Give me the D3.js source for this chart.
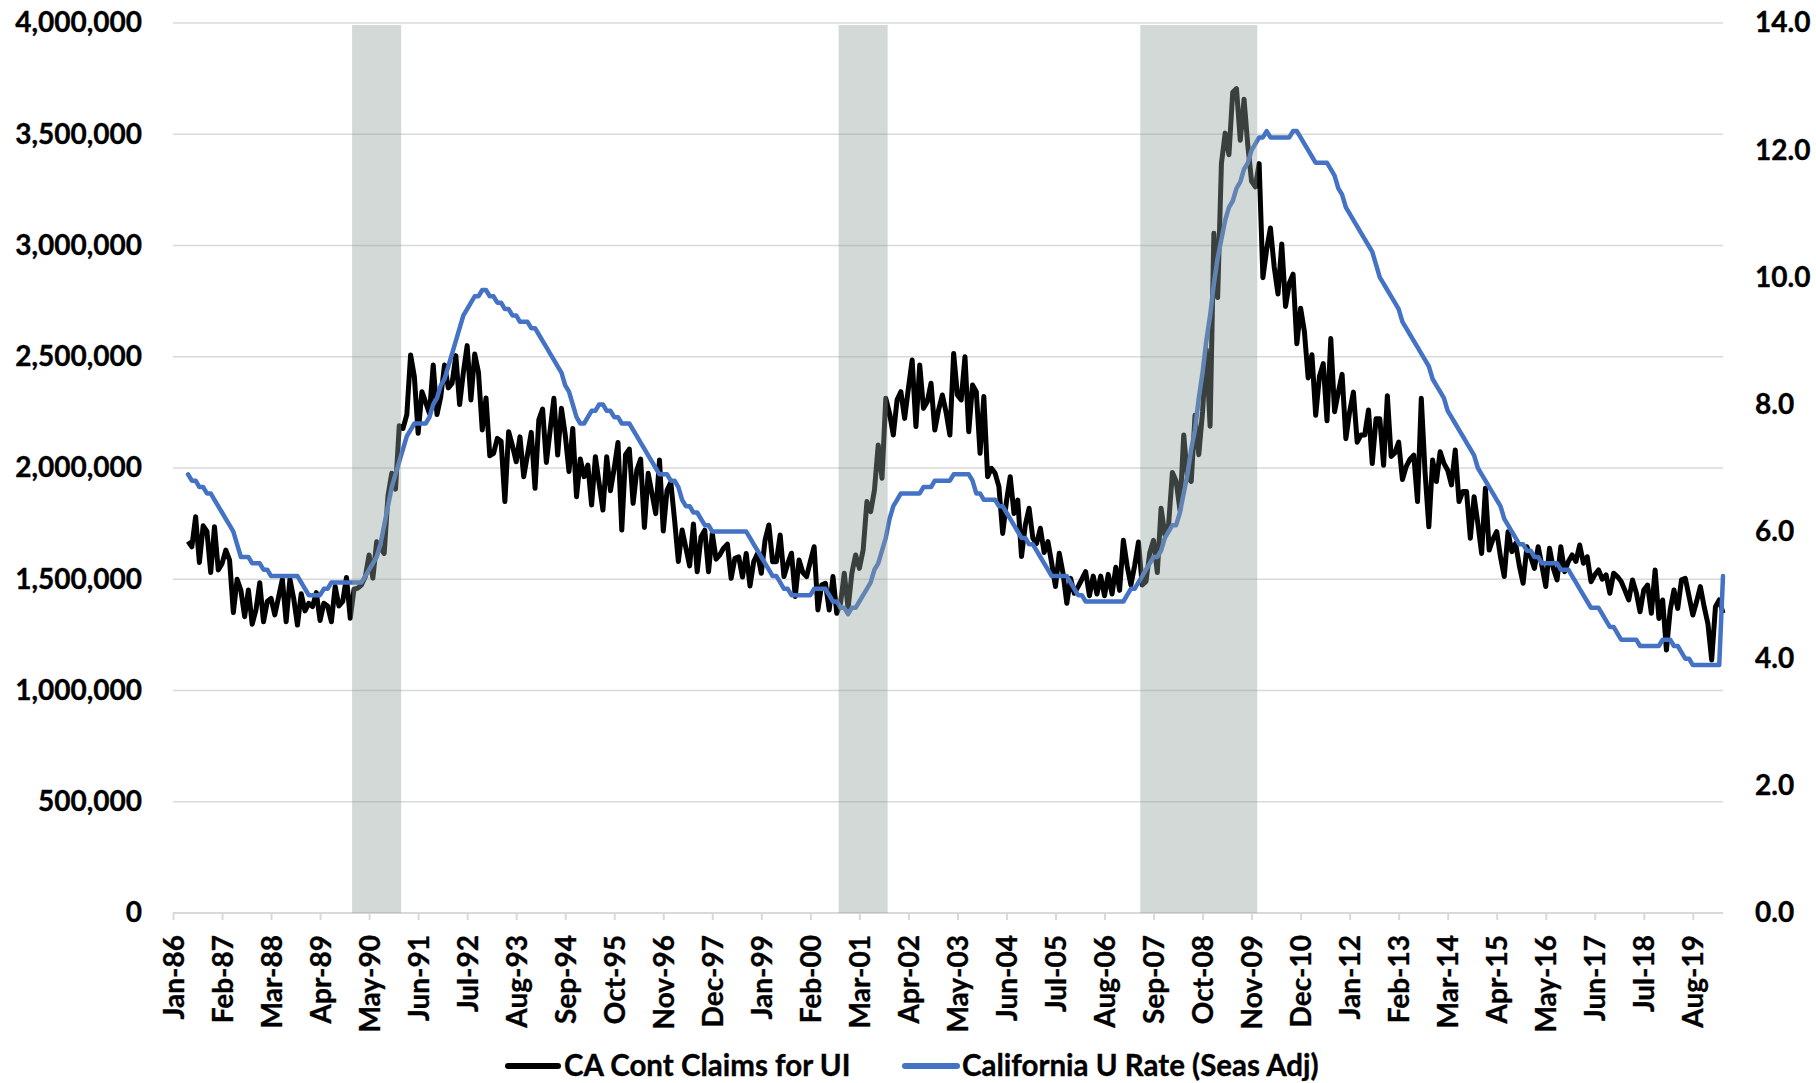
<!DOCTYPE html>
<html>
<head>
<meta charset="utf-8">
<script src="https://cdnjs.cloudflare.com/ajax/libs/d3/7.8.5/d3.min.js"></script>
<style>
  html, body { margin: 0; padding: 0; background: #fff; }
  svg { display: block; }
  text { font-family: Lato, "Open Sans", sans-serif; font-weight: 700; fill: #000; stroke: #000; stroke-width: 0.35px; }
</style>
</head>
<body>
<svg id="chart" width="1816" height="1083"></svg>
<script>
// ---------------- DATA ----------------
const monthNames = ["Jan","Feb","Mar","Apr","May","Jun","Jul","Aug","Sep","Oct","Nov","Dec"];
// monthly categories Jan-86 .. Apr-20
const categories = [];
for (let yr = 1986; yr <= 2020; yr++) {
  for (let m = 0; m < 12; m++) {
    if (yr === 2020 && m > 3) break;
    categories.push(monthNames[m] + "-" + String(yr % 100).padStart(2, "0"));
  }
}

const tickLabels = ["Jan-86","Feb-87","Mar-88","Apr-89","May-90","Jun-91","Jul-92","Aug-93",
  "Sep-94","Oct-95","Nov-96","Dec-97","Jan-99","Feb-00","Mar-01","Apr-02","May-03","Jun-04",
  "Jul-05","Aug-06","Sep-07","Oct-08","Nov-09","Dec-10","Jan-12","Feb-13","Mar-14","Apr-15",
  "May-16","Jun-17","Jul-18","Aug-19"];

const leftTicks = [0, 500, 1000, 1500, 2000, 2500, 3000, 3500, 4000]; // thousands
const rightTicks = [0, 2, 4, 6, 8, 10, 12, 14];

// CA continued claims for UI, thousands (one value per month)
const claims = [
  null, null, null, null, 1670, 1646, 1781, 1575, 1740, 1715, 1530, 1736,
  1542, 1570, 1631, 1586, 1350, 1500, 1450, 1332, 1452, 1298, 1362, 1484,
  1309, 1400, 1414, 1340, 1420, 1500, 1309, 1500, 1414, 1294, 1435, 1358,
  1392, 1377, 1440, 1315, 1392, 1380, 1309, 1467, 1380, 1400, 1508, 1325,
  1455, 1460, 1475, 1512, 1609, 1505, 1669, 1640, 1616, 1875, 1976, 1905,
  2190, 2178, 2240, 2508, 2410, 2156, 2343, 2295, 2245, 2463, 2240, 2320,
  2463, 2360, 2380, 2505, 2285, 2430, 2550, 2306, 2512, 2430, 2171, 2315,
  2055, 2066, 2133, 2120, 1849, 2163, 2100, 2028, 2140, 1961, 2060, 2160,
  1909, 2216, 2265, 2025, 2170, 2313, 2058, 2268, 2150, 1984, 2178, 1871,
  2040, 1961, 2013, 1834, 2051, 1930, 1811, 2051, 1898, 2000, 2115, 1721,
  2060, 2085, 1841, 1991, 2040, 1733, 1976, 1886, 1795, 2036, 1717, 1900,
  1935, 1766, 1580, 1721, 1640, 1560, 1748, 1534, 1690, 1721, 1534, 1706,
  1590, 1610, 1640, 1658, 1504, 1594, 1601, 1510, 1616, 1470, 1580, 1616,
  1527, 1676, 1744, 1579, 1579, 1699, 1512, 1570, 1617, 1422, 1587, 1530,
  1512, 1580, 1646, 1362, 1474, 1482, 1362, 1512, 1347, 1392, 1527, 1369,
  1527, 1609, 1549, 1631, 1849, 1804, 1901, 2103, 1954, 2313, 2246, 2148,
  2306, 2343, 2223, 2358, 2485, 2186, 2463, 2268, 2298, 2381, 2171, 2261,
  2328, 2250, 2148, 2515, 2328, 2306, 2500, 2163, 2373, 2343, 2066, 2321,
  1961, 1999, 1976, 1916, 1706, 1850, 1961, 1796, 1856, 1602, 1744, 1819,
  1684, 1661, 1729, 1620, 1669, 1572, 1467, 1617, 1527, 1392, 1504, 1437,
  1467, 1500, 1534, 1426, 1514, 1434, 1514, 1426, 1522, 1434, 1554, 1450,
  1675, 1560, 1474, 1562, 1667, 1474, 1490, 1619, 1675, 1530, 1819, 1699,
  1747, 1980, 1940, 1811, 2148, 1956, 1940, 2237, 2060, 2253, 2533, 2188,
  3055, 2766, 3368, 3505, 3408, 3689, 3705, 3473, 3657, 3450, 3288, 3264,
  3368, 2855, 2983, 3079, 2903, 2782, 3007, 2726, 2830, 2871, 2558, 2718,
  2614, 2405, 2509, 2237, 2413, 2469, 2212, 2582, 2253, 2340, 2421, 2132,
  2253, 2341, 2116, 2148, 2148, 2261, 2020, 2221, 2221, 2012, 2325, 2052,
  2068, 2116, 1948, 2006, 2040, 2058, 1849, 2313, 1980, 1736, 2036, 1939,
  2073, 2021, 1990, 1924, 2081, 1849, 1894, 1894, 1684, 1871, 1750, 1616,
  1909, 1631, 1680, 1714, 1600, 1512, 1714, 1624, 1661, 1560, 1482, 1646,
  1600, 1549, 1646, 1560, 1467, 1639, 1550, 1497, 1646, 1534, 1580, 1609,
  1580, 1654, 1572, 1601, 1489, 1520, 1542, 1500, 1520, 1437, 1527, 1512,
  1490, 1450, 1407, 1497, 1440, 1354, 1452, 1474, 1347, 1542, 1324, 1407,
  1182, 1362, 1452, 1369, 1497, 1504, 1422, 1339, 1400, 1467, 1377, 1300,
  1137, 1377, 1407, 1347
];

// California unemployment rate, seasonally adjusted (%)
const uRate = [
  null, null, null, null, 6.9, 6.8, 6.8, 6.7, 6.7, 6.6, 6.6, 6.5,
  6.4, 6.3, 6.2, 6.1, 6.0, 5.8, 5.6, 5.6, 5.6, 5.5, 5.5, 5.5,
  5.4, 5.4, 5.3, 5.3, 5.3, 5.3, 5.3, 5.3, 5.3, 5.3, 5.2, 5.1,
  5.0, 5.0, 5.0, 5.0, 5.1, 5.1, 5.2, 5.2, 5.2, 5.2, 5.2, 5.2,
  5.2, 5.2, 5.2, 5.3, 5.4, 5.5, 5.6, 5.8, 6.1, 6.4, 6.7, 6.9,
  7.1, 7.3, 7.5, 7.6, 7.7, 7.7, 7.7, 7.7, 7.8, 8.0, 8.1, 8.3,
  8.4, 8.6, 8.8, 9.0, 9.2, 9.4, 9.5, 9.6, 9.7, 9.7, 9.8, 9.8,
  9.7, 9.7, 9.6, 9.6, 9.5, 9.5, 9.4, 9.4, 9.3, 9.3, 9.3, 9.2,
  9.2, 9.1, 9.0, 8.9, 8.8, 8.7, 8.6, 8.5, 8.3, 8.2, 8.0, 7.8,
  7.7, 7.7, 7.8, 7.9, 7.9, 8.0, 8.0, 7.9, 7.9, 7.8, 7.8, 7.7,
  7.7, 7.7, 7.6, 7.5, 7.4, 7.3, 7.2, 7.1, 7.0, 6.9, 6.9, 6.9,
  6.8, 6.8, 6.7, 6.5, 6.4, 6.4, 6.3, 6.3, 6.2, 6.1, 6.1, 6.0,
  6.0, 6.0, 6.0, 6.0, 6.0, 6.0, 6.0, 6.0, 6.0, 5.9, 5.8, 5.7,
  5.6, 5.5, 5.4, 5.3, 5.3, 5.2, 5.1, 5.1, 5.0, 5.0, 5.0, 5.0,
  5.0, 5.0, 5.1, 5.1, 5.1, 5.1, 5.0, 4.9, 4.9, 4.8, 4.8, 4.7,
  4.8, 4.8, 4.9, 5.0, 5.1, 5.2, 5.4, 5.5, 5.7, 5.9, 6.2, 6.4,
  6.5, 6.6, 6.6, 6.6, 6.6, 6.6, 6.6, 6.7, 6.7, 6.7, 6.8, 6.8,
  6.8, 6.8, 6.8, 6.9, 6.9, 6.9, 6.9, 6.9, 6.8, 6.6, 6.6, 6.5,
  6.5, 6.5, 6.5, 6.4, 6.4, 6.3, 6.2, 6.1, 6.0, 5.9, 5.9, 5.8,
  5.8, 5.7, 5.6, 5.5, 5.4, 5.3, 5.3, 5.3, 5.3, 5.3, 5.2, 5.1,
  5.0, 5.0, 4.9, 4.9, 4.9, 4.9, 4.9, 4.9, 4.9, 4.9, 4.9, 4.9,
  4.9, 5.0, 5.1, 5.1, 5.2, 5.3, 5.4, 5.5, 5.6, 5.6, 5.7, 5.9,
  6.0, 6.1, 6.1, 6.3, 6.6, 6.9, 7.3, 7.6, 8.1, 8.5, 9.0, 9.4,
  9.9, 10.3, 10.6, 10.9, 11.1, 11.2, 11.4, 11.5, 11.7, 11.8, 12.0, 12.1,
  12.2, 12.2, 12.3, 12.2, 12.2, 12.2, 12.2, 12.2, 12.2, 12.3, 12.3, 12.2,
  12.1, 12.0, 11.9, 11.8, 11.8, 11.8, 11.8, 11.7, 11.6, 11.4, 11.3, 11.1,
  11.0, 10.9, 10.8, 10.7, 10.6, 10.5, 10.4, 10.2, 10.0, 9.9, 9.8, 9.7,
  9.6, 9.5, 9.3, 9.2, 9.1, 9.0, 8.9, 8.8, 8.7, 8.6, 8.4, 8.3,
  8.2, 8.1, 7.9, 7.8, 7.7, 7.6, 7.5, 7.4, 7.3, 7.2, 7.0, 6.9,
  6.8, 6.7, 6.6, 6.5, 6.4, 6.2, 6.1, 6.0, 5.9, 5.8, 5.8, 5.7,
  5.7, 5.6, 5.6, 5.5, 5.5, 5.5, 5.5, 5.5, 5.4, 5.4, 5.4, 5.3,
  5.2, 5.1, 5.0, 4.9, 4.8, 4.8, 4.8, 4.7, 4.6, 4.5, 4.5, 4.4,
  4.3, 4.3, 4.3, 4.3, 4.3, 4.2, 4.2, 4.2, 4.2, 4.2, 4.2, 4.3,
  4.3, 4.3, 4.2, 4.2, 4.1, 4.0, 4.0, 3.9, 3.9, 3.9, 3.9, 3.9,
  3.9, 3.9, 3.9, 5.3
];

// recession shading: first and last shaded month
const recessionStart = ["Jan-90", "Oct-00", "Jun-07"];
const recessionEnd   = ["Jan-91", "Oct-01", "Dec-09"];

const seriesNames = ["CA Cont Claims for UI", "California U Rate (Seas Adj)"];

// ---------------- CHART ----------------
const svg = d3.select("#chart");
const plotL = 173, plotR = 1723, plotT = 23, plotB = 913;

const x = d3.scalePoint().domain(categories).range([plotL, plotR]);
const yL = d3.scaleLinear().domain([0, 4000]).range([plotB, plotT]);
const yR = d3.scaleLinear().domain([0, 14]).range([plotB, plotT]);

// gridlines
svg.append("g").selectAll("line")
  .data(leftTicks.filter(d => d > 0))
  .join("line")
  .attr("x1", plotL).attr("x2", plotR)
  .attr("y1", d => yL(d)).attr("y2", d => yL(d))
  .attr("stroke", "#d9d9d9").attr("stroke-width", 1.5);

// left axis
const gL = svg.append("g").attr("transform", `translate(${plotL},0)`)
  .call(d3.axisLeft(yL).tickValues(leftTicks).tickSize(0).tickPadding(31)
    .tickFormat(d => d3.format(",")(d * 1000)));
gL.select(".domain").remove();
gL.selectAll("text").attr("font-size", 28).attr("font-family", "Lato").attr("font-weight", 700);

// right axis
const gR = svg.append("g").attr("transform", `translate(${plotR},0)`)
  .call(d3.axisRight(yR).tickValues(rightTicks).tickSize(0).tickPadding(32)
    .tickFormat(d3.format(".1f")));
gR.select(".domain").remove();
gR.selectAll("text").attr("font-size", 28).attr("font-family", "Lato").attr("font-weight", 700);

// bottom axis
const gB = svg.append("g").attr("transform", `translate(0,${plotB})`)
  .call(d3.axisBottom(x).tickValues(tickLabels).tickSizeInner(7).tickSizeOuter(0));
gB.select(".domain").attr("stroke", "#d9d9d9").attr("stroke-width", 2)
  .attr("d", `M${plotL},0H${plotR}`);
gB.selectAll(".tick line").attr("stroke", "#d9d9d9").attr("stroke-width", 2);
gB.selectAll(".tick text")
  .attr("transform", "rotate(-90)")
  .attr("text-anchor", "end")
  .attr("x", -22).attr("y", 0).attr("dy", "0.36em")
  .attr("font-size", 28).attr("font-family", "Lato").attr("font-weight", 700);

// lines
const claimsData = categories.map((c, i) => ({ c, v: claims[i] }));
const rateData = categories.map((c, i) => ({ c, v: uRate[i] }));

const lineL = d3.line().defined(d => d.v != null).x(d => x(d.c)).y(d => yL(d.v));
const lineR = d3.line().defined(d => d.v != null).x(d => x(d.c)).y(d => yR(d.v));

svg.append("path").datum(claimsData)
  .attr("d", lineL).attr("fill", "none")
  .attr("stroke", "#000").attr("stroke-width", 5)
  .attr("stroke-linejoin", "round");

svg.append("path").datum(rateData)
  .attr("d", lineR).attr("fill", "none")
  .attr("stroke", "#4472c4").attr("stroke-width", 4.5)
  .attr("stroke-linejoin", "round").attr("stroke-linecap", "round");

// recession shading (drawn over the lines, semi-transparent)
const step = x.step();
svg.append("g").selectAll("rect")
  .data(recessionStart.map((s, i) => ({ s, e: recessionEnd[i] })))
  .join("rect")
  .attr("x", d => x(d.s) - step / 2)
  .attr("width", d => x(d.e) - x(d.s) + step)
  .attr("y", plotT + 2)
  .attr("height", plotB - plotT - 2)
  .attr("fill", "rgb(145,159,153)")
  .attr("fill-opacity", 0.4);

// legend
const legendY = 1066;
const legendItems = [
  { name: seriesNames[0], color: "#000", x0: 508, x1: 558, tx: 564 },
  { name: seriesNames[1], color: "#4472c4", x0: 905, x1: 957, tx: 962 }
];
const lg = svg.append("g");
legendItems.forEach(it => {
  lg.append("line").attr("x1", it.x0).attr("x2", it.x1)
    .attr("y1", legendY).attr("y2", legendY)
    .attr("stroke", it.color).attr("stroke-width", 6).attr("stroke-linecap", "round");
  lg.append("text").attr("x", it.tx).attr("y", legendY).attr("dy", "0.35em")
    .attr("font-size", 29.5).text(it.name);
});
</script>
</body>
</html>
